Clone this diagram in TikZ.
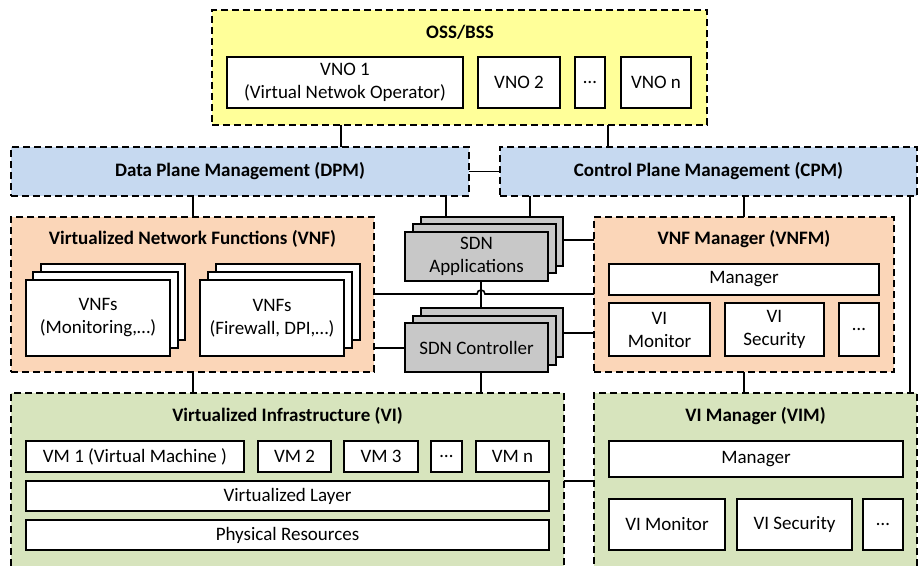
\documentclass[tikz,border=0pt]{standalone}
\usepackage{fontspec}
\setmainfont{Carlito}
\definecolor{ossfill}{RGB}{255,255,153}
\definecolor{pmfill}{RGB}{198,217,240}
\definecolor{vnffill}{RGB}{251,214,184}
\definecolor{vifill}{RGB}{215,228,189}
\definecolor{sdnfill}{RGB}{200,200,200}
% style, name, x1, y1, x2, y2, text
\newcommand{\rbox}[7]{\node[#1, minimum width={(#5-#3)*1pt}, minimum height={(#6-#4)*1pt}] (#2) at ({(#3+#5)/2},{(#4+#6)/2}) {#7};}
\begin{document}
\begin{tikzpicture}[x=1pt,y=-1pt,
  every node/.style={font=\fontsize{19}{23}\selectfont, align=center, inner sep=0pt, outer sep=0pt, text=black},
  grp/.style={draw=black, line width=1.2pt, dash pattern=on 7pt off 4pt},
  wbox/.style={draw=black, line width=1.1pt, fill=white},
  sbox/.style={draw=black, line width=1.1pt, fill=sdnfill},
  ttl/.style={font=\bfseries\fontsize{19}{23}\selectfont},
  conn/.style={draw=black, line width=1.6pt}]
\useasboundingbox (0,0) rectangle (918,565);
\clip (0,0) rectangle (918,565);
% groups
\rbox{grp, fill=ossfill}{oss}{212}{10}{707}{125}{}
\node[ttl] (osst) at (460,32) {OSS/BSS};
\rbox{grp, fill=pmfill, ttl}{dpm}{11}{147}{469}{196}{Data Plane Management (DPM)}
\rbox{grp, fill=pmfill, ttl}{cpm}{500}{147}{917}{196}{Control Plane Management (CPM)}
\rbox{grp, fill=vnffill}{vnf}{11}{217}{374}{372}{}
\node[ttl] (vnft) at (192.5,239) {Virtualized Network Functions (VNF)};
\rbox{grp, fill=vnffill}{vnfm}{594}{217}{894}{372}{}
\node[ttl] (vnfmt) at (744,239) {VNF Manager (VNFM)};
\rbox{grp, fill=vifill}{vi}{11}{393}{564}{595}{}
\node[ttl] (vit) at (287.5,416) {Virtualized Infrastructure (VI)};
\rbox{grp, fill=vifill}{vim}{594}{393}{917}{595}{}
\node[ttl] (vimt) at (755.5,416) {VI Manager (VIM)};
% OSS content
\rbox{wbox}{vno1}{227}{57}{463}{108}{VNO 1\\(Virtual Netwok Operator)}
\rbox{wbox}{vno2}{478}{57}{560}{108}{VNO 2}
\rbox{wbox}{vnod}{575}{57}{605}{108}{…}
\rbox{wbox}{vnon}{621}{57}{691}{108}{VNO n}
% VNF stacks
\rbox{wbox}{mon3}{41}{264}{185}{340}{}
\rbox{wbox}{mon2}{33}{272}{178}{348}{}
\rbox{wbox}{mon1}{26}{280}{170}{356}{VNFs\\(Monitoring,…)}
\rbox{wbox}{fw3}{216}{264}{360}{340}{}
\rbox{wbox}{fw2}{208}{272}{352}{348}{}
\rbox{wbox}{fw1}{200}{280}{344}{356}{VNFs\\(Firewall, DPI,…)}
% SDN
\rbox{sbox}{app3}{421}{217}{563}{266}{}
\rbox{sbox}{app2}{413}{224}{556}{273}{}
\rbox{sbox}{app1}{405}{232}{548}{281}{SDN\\Applications}
\rbox{sbox}{ctl3}{421}{308}{563}{357}{}
\rbox{sbox}{ctl2}{413}{316}{556}{365}{}
\rbox{sbox}{ctl1}{405}{323}{548}{372}{SDN Controller}
% VNFM content
\rbox{wbox}{vnfmman}{609}{264}{879}{295}{Manager}
\rbox{wbox}{vnfmmon}{609}{303}{710}{356}{VI\\Monitor}
\rbox{wbox}{vnfmsec}{725}{303}{824}{356}{VI\\Security}
\rbox{wbox}{vnfmdot}{839}{303}{879}{356}{…}
% VI content
\rbox{wbox}{vm1}{26}{441}{244}{472}{VM 1 (Virtual Machine )}
\rbox{wbox}{vm2}{258}{441}{331}{472}{VM 2}
\rbox{wbox}{vm3}{344}{441}{418}{472}{VM 3}
\rbox{wbox}{vmd}{431}{441}{462}{472}{…}
\rbox{wbox}{vmn}{476}{441}{549}{472}{VM n}
\rbox{wbox}{vlayer}{26}{481}{549}{511}{Virtualized Layer}
\rbox{wbox}{phys}{26}{520}{549}{550}{Physical Resources}
% VIM content
\rbox{wbox}{vimman}{609}{441}{903}{477}{Manager}
\rbox{wbox}{vimmon}{609}{499}{725}{550}{VI Monitor}
\rbox{wbox}{vimsec}{737}{499}{852}{550}{VI Security}
\rbox{wbox}{vimdot}{863}{499}{903}{550}{…}
% connectors
\draw[conn] (341,0 |- oss.south) -- (341,0 |- dpm.north);
\draw[conn] (608,0 |- oss.south) -- (608,0 |- cpm.north);
\draw[conn] (dpm.east) -- (cpm.west);
\draw[conn] (193,0 |- dpm.south) -- (193,0 |- vnf.north);
\draw[conn] (446,0 |- dpm.south) -- (446,0 |- app3.north);
\draw[conn] (530,0 |- cpm.south) -- (530,0 |- app3.north);
\draw[conn] (744,0 |- cpm.south) -- (744,0 |- vnfm.north);
\draw[conn] (910,0 |- cpm.south) -- (910,0 |- vim.north);
\draw[conn] (app3.east |- 0,240) -- (vnfm.west |- 0,240);
\draw[conn] (vnf.east |- 0,294) -- (477,294) arc[start angle=180, end angle=0, radius=4pt] -- (vnfm.west |- 0,294);
\draw[conn] (481,0 |- ctl3.north) -- (481,0 |- app1.south);
\draw[conn] (ctl3.east |- 0,333) -- (vnfm.west |- 0,333);
\draw[conn] (vnf.east |- 0,348) -- (ctl1.west |- 0,348);
\draw[conn] (193,0 |- vnf.south) -- (193,0 |- vi.north);
\draw[conn] (481,0 |- ctl1.south) -- (481,0 |- vi.north);
\draw[conn] (744,0 |- vnfm.south) -- (744,0 |- vim.north);
\draw[conn] (vi.east |- 0,481) -- (vim.west |- 0,481);
\end{tikzpicture}
\end{document}
